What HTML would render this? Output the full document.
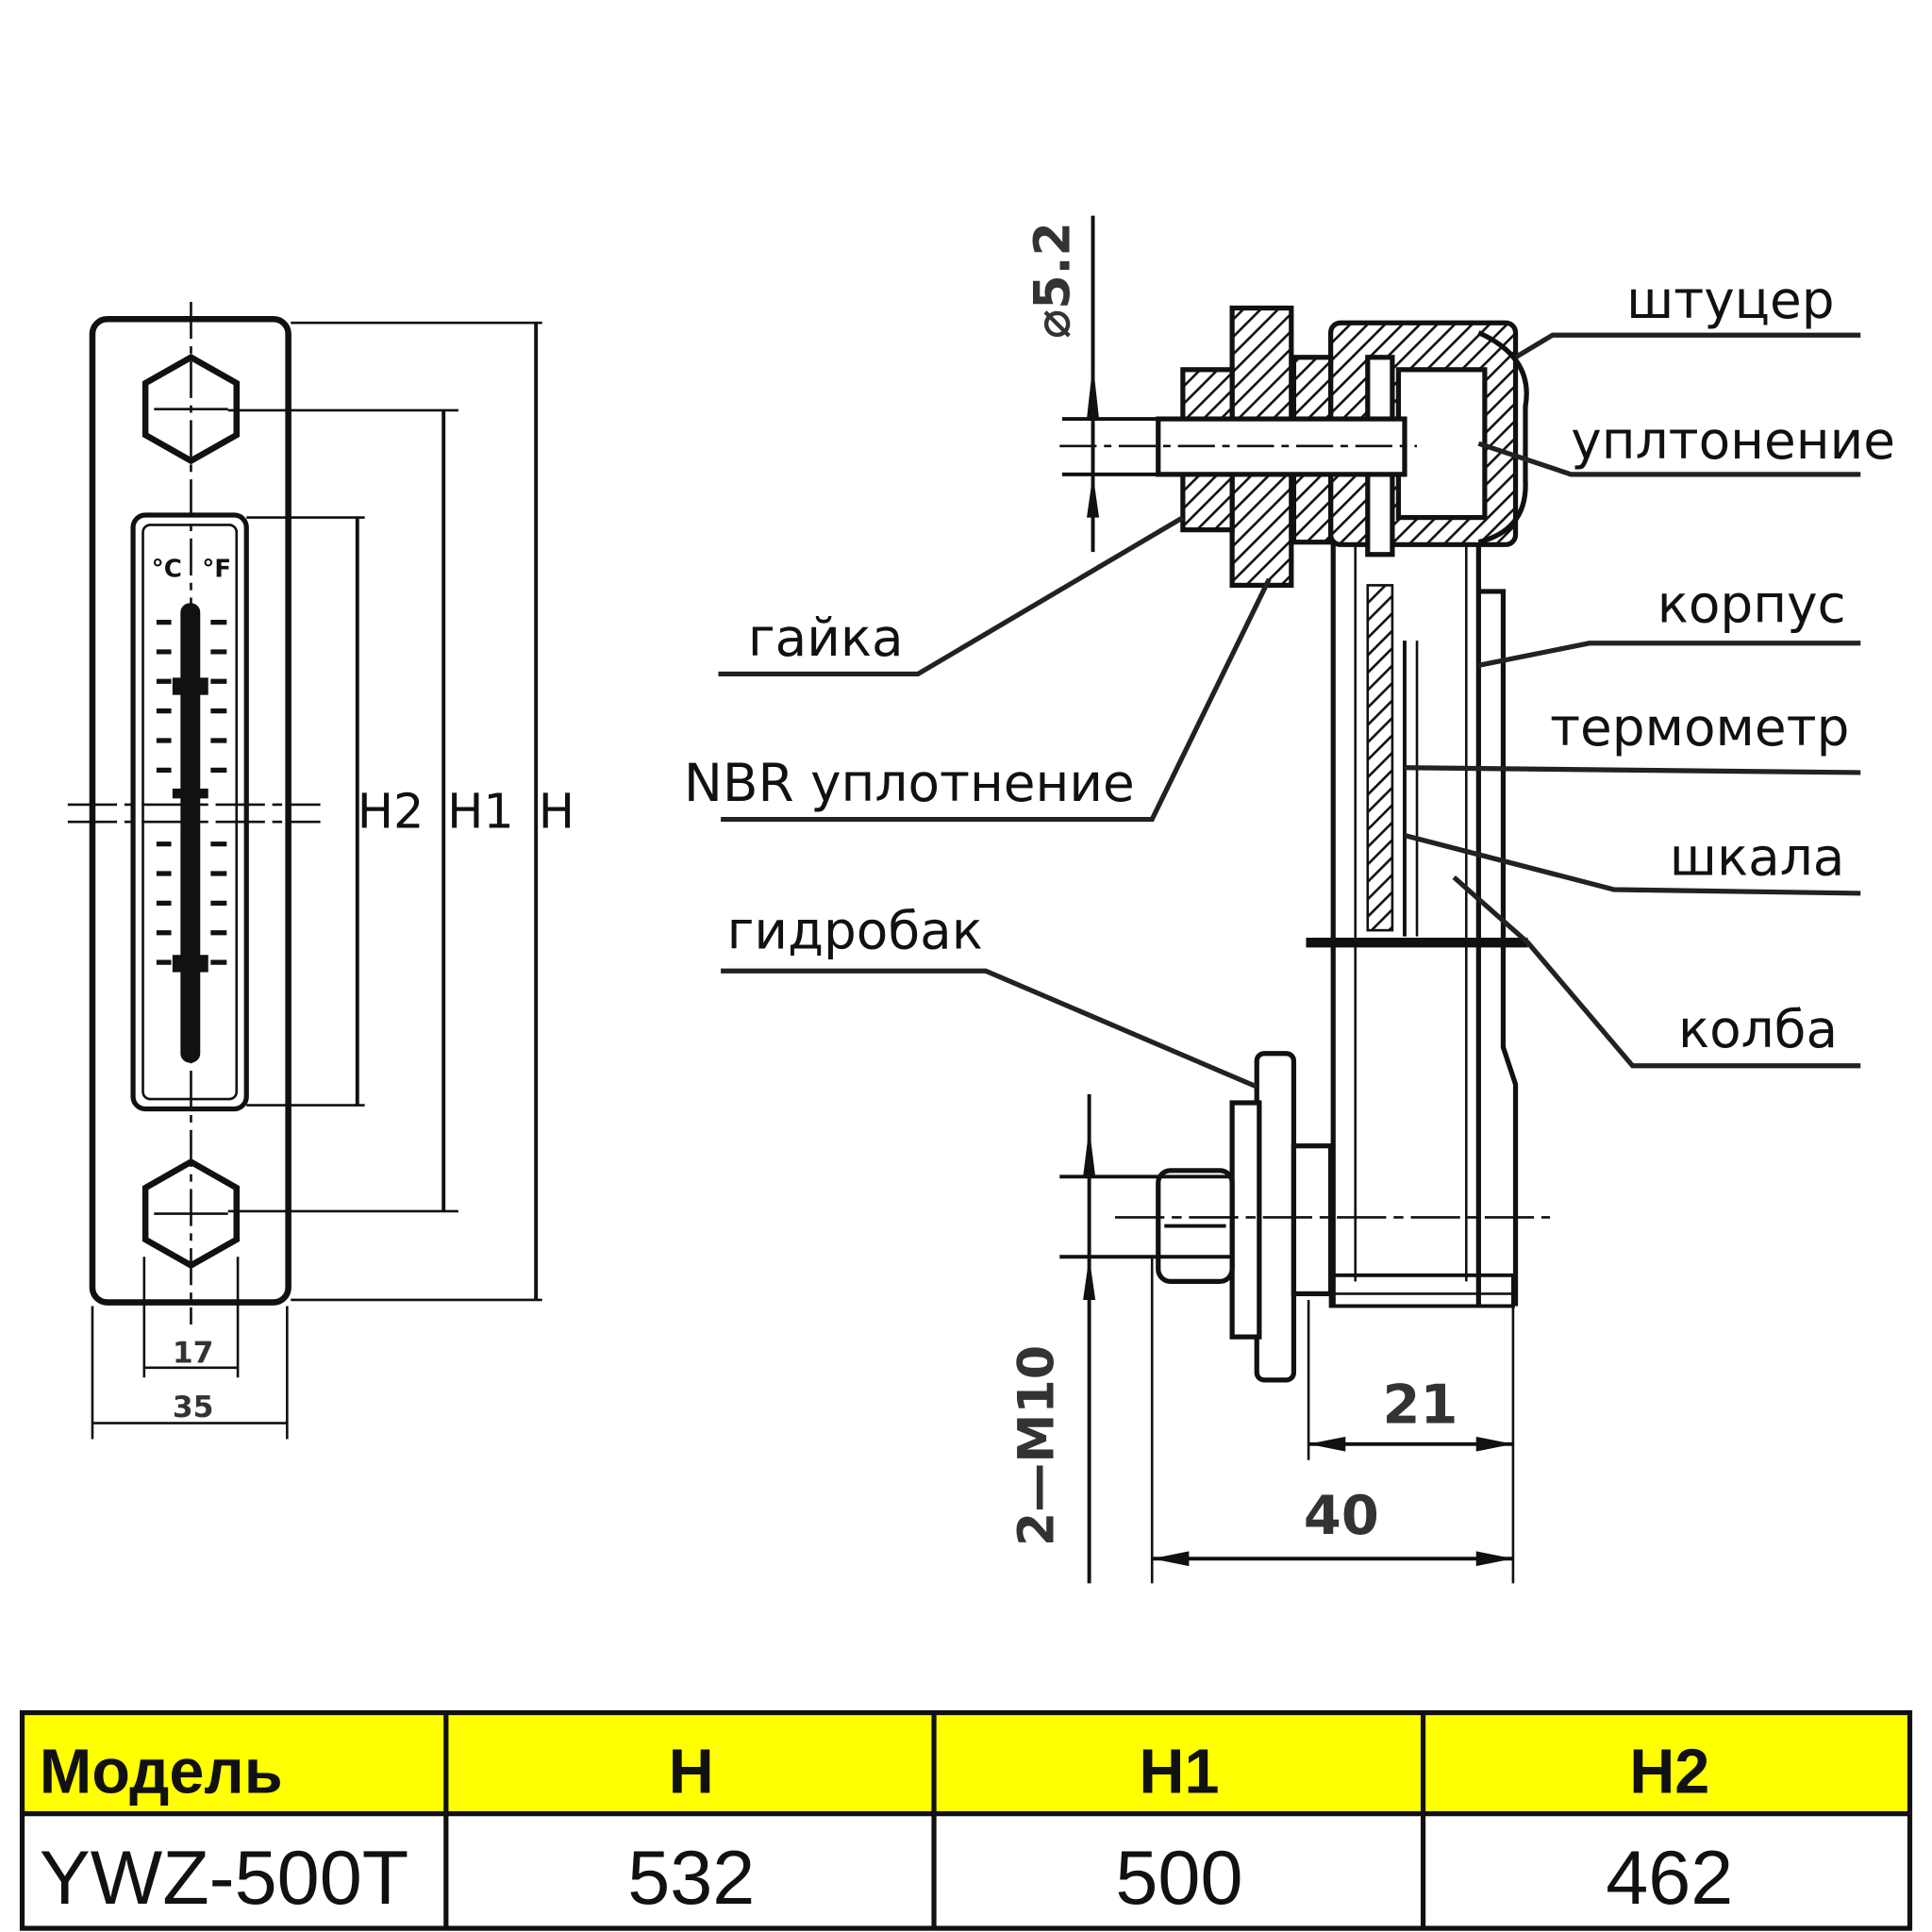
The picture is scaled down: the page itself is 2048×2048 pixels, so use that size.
<!DOCTYPE html>
<html><head><meta charset="utf-8"><style>
html,body{margin:0;padding:0;background:#fff;}
svg{display:block;}
text{font-family:"DejaVu Sans","Liberation Sans",sans-serif;}
</style></head><body>
<svg width="2048" height="2048" viewBox="0 0 1568 1568" xmlns="http://www.w3.org/2000/svg">
<defs>
<pattern id="h" width="10" height="10" patternUnits="userSpaceOnUse" patternTransform="rotate(45)">
<rect width="10" height="10" fill="#fff"/><line x1="0" y1="0" x2="0" y2="10" stroke="#111" stroke-width="4"/></pattern>
</defs>
<rect width="1568" height="1568" fill="#fff"/>

<!-- LEFT VIEW -->
<g stroke="#111" fill="none">
<rect x="75" y="259" width="159" height="798" rx="12" stroke-width="5"/>
<polygon points="155,290 192,311 192,353 155,374 118,353 118,311" stroke-width="5"/>
<polygon points="155,943 192,964 192,1006 155,1027 118,1006 118,964" stroke-width="5"/>
<rect x="108" y="418" width="92" height="482" rx="10" stroke-width="4"/>
<rect x="116" y="426" width="76" height="466" rx="6" stroke-width="2"/>
<line x1="155" y1="245" x2="155" y2="1075" stroke-width="2" stroke-dasharray="30,6,6,6"/>
<line x1="125" y1="332" x2="185" y2="332" stroke-width="2"/>
<line x1="125" y1="985" x2="185" y2="985" stroke-width="2"/>
<line x1="55" y1="653" x2="260" y2="653" stroke-width="2" stroke-dasharray="40,6,8,6"/>
<line x1="55" y1="667" x2="260" y2="667" stroke-width="2" stroke-dasharray="40,6,8,6"/>
<rect x="147" y="490" width="15" height="372" rx="7" fill="#111" stroke-width="1"/>
<line x1="236" y1="262" x2="440" y2="262" stroke-width="2"/>
<line x1="236" y1="1055" x2="440" y2="1055" stroke-width="2"/>
<line x1="435" y1="262" x2="435" y2="1055" stroke-width="3"/>
<line x1="185" y1="333" x2="372" y2="333" stroke-width="2"/>
<line x1="185" y1="983" x2="372" y2="983" stroke-width="2"/>
<line x1="360" y1="333" x2="360" y2="983" stroke-width="3"/>
<line x1="200" y1="420" x2="296" y2="420" stroke-width="2"/>
<line x1="200" y1="897" x2="296" y2="897" stroke-width="2"/>
<line x1="290" y1="420" x2="290" y2="897" stroke-width="3"/>
<line x1="117" y1="1020" x2="117" y2="1118" stroke-width="2"/>
<line x1="193" y1="1020" x2="193" y2="1118" stroke-width="2"/>
<line x1="117" y1="1110" x2="193" y2="1110" stroke-width="2"/>
<line x1="75" y1="1060" x2="75" y2="1168" stroke-width="2"/>
<line x1="233" y1="1060" x2="233" y2="1168" stroke-width="2"/>
<line x1="75" y1="1155" x2="233" y2="1155" stroke-width="2"/>
</g>
<g fill="#111">
<rect x="140" y="550" width="29" height="14"/><rect x="140" y="775" width="29" height="14"/>
<rect x="140" y="640" width="29" height="8"/>
</g>
<g stroke="#111" stroke-width="4">
<line x1="127" y1="505" x2="139" y2="505"/><line x1="171" y1="505" x2="184" y2="505"/>
<line x1="127" y1="529" x2="139" y2="529"/><line x1="171" y1="529" x2="184" y2="529"/>
<line x1="127" y1="553" x2="139" y2="553"/><line x1="171" y1="553" x2="184" y2="553"/>
<line x1="127" y1="577" x2="139" y2="577"/><line x1="171" y1="577" x2="184" y2="577"/>
<line x1="127" y1="601" x2="139" y2="601"/><line x1="171" y1="601" x2="184" y2="601"/>
<line x1="127" y1="625" x2="139" y2="625"/><line x1="171" y1="625" x2="184" y2="625"/>
<line x1="127" y1="685" x2="139" y2="685"/><line x1="171" y1="685" x2="184" y2="685"/>
<line x1="127" y1="709" x2="139" y2="709"/><line x1="171" y1="709" x2="184" y2="709"/>
<line x1="127" y1="733" x2="139" y2="733"/><line x1="171" y1="733" x2="184" y2="733"/>
<line x1="127" y1="757" x2="139" y2="757"/><line x1="171" y1="757" x2="184" y2="757"/>
<line x1="127" y1="781" x2="139" y2="781"/><line x1="171" y1="781" x2="184" y2="781"/>
</g>
<text x="123" y="468" font-size="20" font-weight="bold" fill="#111">°C</text>
<text x="164" y="468" font-size="20" font-weight="bold" fill="#111">°F</text>
<text x="290" y="672" font-size="39" fill="#111">H2</text>
<text x="363" y="672" font-size="39" fill="#111">H1</text>
<text x="437" y="672" font-size="39" fill="#111">H</text>
<text x="140" y="1106" font-size="24" font-weight="bold" fill="#333">17</text>
<text x="140" y="1150" font-size="24" font-weight="bold" fill="#333">35</text>

<!-- RIGHT VIEW -->
<g stroke="#111" fill="none" stroke-width="4">
<line x1="1082" y1="440" x2="1082" y2="1060"/>
<line x1="1200" y1="440" x2="1200" y2="1060"/>
<path d="M1200 480 L1220 480 L1220 850 L1230 880 L1230 1060" />
<line x1="1100" y1="440" x2="1100" y2="1040" stroke-width="2"/>
<line x1="1190" y1="440" x2="1190" y2="1040" stroke-width="2"/>
<line x1="1060" y1="765" x2="1240" y2="765" stroke-width="8"/>
<rect x="1080" y="1035" width="148" height="25" stroke-width="3"/>
<line x1="1060" y1="1050" x2="1228" y2="1050" stroke-width="2"/>
<rect x="1080" y="262" width="150" height="180" fill="url(#h)" rx="8"/>
<rect x="1110" y="290" width="20" height="160" fill="#fff"/>
<rect x="1135" y="300" width="70" height="120" fill="#fff"/>
<path d="M1200 270 Q1245 290 1238 330 L1238 390 Q1240 430 1200 440" stroke-width="4"/>
<rect x="1000" y="250" width="48" height="225" fill="url(#h)"/>
<rect x="960" y="300" width="40" height="130" fill="url(#h)"/>
<rect x="1050" y="290" width="30" height="150" fill="url(#h)"/>
<rect x="940" y="340" width="200" height="45" fill="#fff"/>
<line x1="862" y1="340" x2="1140" y2="340" stroke-width="3"/>
<line x1="862" y1="385" x2="1140" y2="385" stroke-width="3"/>
<line x1="860" y1="362" x2="1150" y2="362" stroke-width="2" stroke-dasharray="30,6,6,6"/>
<line x1="887" y1="175" x2="887" y2="448" stroke-width="3"/>
<rect x="1110" y="475" width="20" height="280" fill="url(#h)" stroke-width="2"/>
<line x1="1140" y1="520" x2="1140" y2="760" stroke-width="3"/>
<line x1="1150" y1="520" x2="1150" y2="760" stroke-width="2"/>
<rect x="1020" y="855" width="30" height="265" rx="6" fill="#fff"/>
<rect x="1000" y="895" width="22" height="190" fill="#fff"/>
<rect x="940" y="950" width="60" height="90" rx="10" fill="#fff"/>
<line x1="945" y1="995" x2="995" y2="995" stroke-width="3"/>
<rect x="1050" y="930" width="30" height="120" fill="#fff"/>
<line x1="905" y1="988" x2="1258" y2="988" stroke-width="2" stroke-dasharray="40,6,8,6"/>
<line x1="860" y1="955" x2="1000" y2="955" stroke-width="3"/>
<line x1="860" y1="1020" x2="1000" y2="1020" stroke-width="3"/>
<line x1="884" y1="888" x2="884" y2="1285" stroke-width="3"/>
<line x1="1062" y1="1055" x2="1062" y2="1185" stroke-width="2"/>
<line x1="1228" y1="1060" x2="1228" y2="1285" stroke-width="2"/>
<line x1="935" y1="1020" x2="935" y2="1285" stroke-width="2"/>
<line x1="1062" y1="1172" x2="1228" y2="1172" stroke-width="3"/>
<line x1="935" y1="1265" x2="1228" y2="1265" stroke-width="3"/>
</g>
<g fill="#111">
<polygon points="1062,1172 1092,1166 1092,1178"/><polygon points="1228,1172 1198,1166 1198,1178"/>
<polygon points="935,1265 965,1259 965,1271"/><polygon points="1228,1265 1198,1259 1198,1271"/>
<polygon points="887,295 882,340 892,340"/><polygon points="887,385 882,420 892,420"/>
<polygon points="884,915 879,955 889,955"/><polygon points="884,1020 879,1055 889,1055"/>
</g>
<text transform="translate(868,275) rotate(-90)" font-size="40" font-weight="bold" fill="#333">⌀5.2</text>
<text transform="translate(855,1255) rotate(-90)" font-size="40" font-weight="bold" fill="#333">2—M10</text>
<text x="1122" y="1155" font-size="44" font-weight="bold" fill="#333">21</text>
<text x="1058" y="1245" font-size="44" font-weight="bold" fill="#333">40</text>

<g stroke="#222" stroke-width="4" fill="none">
<polyline points="1230,290 1260,272 1510,272"/>
<polyline points="1200,360 1275,385 1510,385"/>
<polyline points="1200,540 1290,522 1510,522"/>
<polyline points="1140,623 1510,627"/>
<polyline points="1140,678 1310,722 1510,725"/>
<polyline points="1180,712 1240,765 1325,865 1510,865"/>
<polyline points="960,420 745,547 583,547"/>
<polyline points="1030,470 935,665 585,665"/>
<polyline points="1020,882 800,788 585,788"/>
</g>
<g font-size="42" fill="#111">
<text x="1320" y="258">штуцер</text>
<text x="1275" y="372">уплтонение</text>
<text x="1345" y="505">корпус</text>
<text x="1258" y="605">термометр</text>
<text x="1355" y="710">шкала</text>
<text x="1362" y="850">колба</text>
<text x="607" y="532">гайка</text>
<text x="555" y="650">NBR уплотнение</text>
<text x="590" y="770">гидробак</text>
</g>

<rect x="18" y="1390" width="1532" height="82" fill="#ffff00"/>
<g stroke="#111" stroke-width="4" fill="none">
<rect x="18" y="1390" width="1532" height="175"/>
<line x1="18" y1="1472" x2="1550" y2="1472"/>
<line x1="362" y1="1390" x2="362" y2="1565"/>
<line x1="758" y1="1390" x2="758" y2="1565"/>
<line x1="1155" y1="1390" x2="1155" y2="1565"/>
</g>
<g fill="#111">
<text x="32" y="1455" font-size="51" font-weight="bold" style="font-family:'Liberation Sans',sans-serif">Модель</text>
<text x="561" y="1455" font-size="51" font-weight="bold" text-anchor="middle" style="font-family:'Liberation Sans',sans-serif">H</text>
<text x="957" y="1455" font-size="51" font-weight="bold" text-anchor="middle" style="font-family:'Liberation Sans',sans-serif">H1</text>
<text x="1355" y="1455" font-size="51" font-weight="bold" text-anchor="middle" style="font-family:'Liberation Sans',sans-serif">H2</text>
<text x="32" y="1545" font-size="62" style="font-family:'Liberation Sans',sans-serif">YWZ-500T</text>
<text x="561" y="1545" font-size="62" text-anchor="middle" style="font-family:'Liberation Sans',sans-serif">532</text>
<text x="957" y="1545" font-size="62" text-anchor="middle" style="font-family:'Liberation Sans',sans-serif">500</text>
<text x="1355" y="1545" font-size="62" text-anchor="middle" style="font-family:'Liberation Sans',sans-serif">462</text>
</g>
</svg>
</body></html>
